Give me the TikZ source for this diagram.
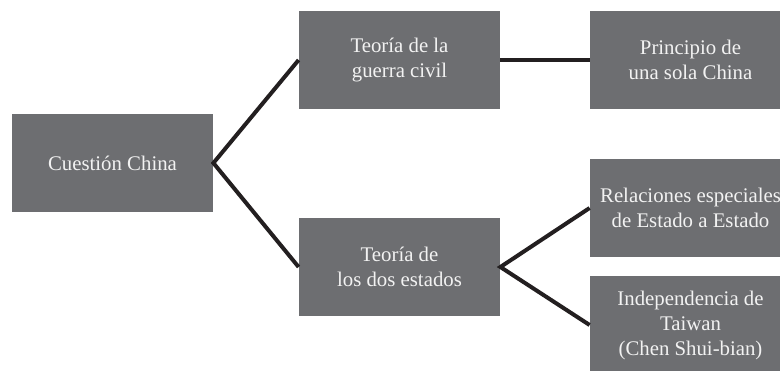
\documentclass[tikz,border=0pt]{standalone}
\usepackage{fontspec}
\setmainfont{Liberation Serif}
\usepackage{tikz}

\begin{document}
\begin{tikzpicture}[x=0.5pt,y=-0.5pt,
		box/.style={fill=boxgray,text=boxtext,minimum width=100.5pt,minimum height=49pt,inner sep=0pt,align=center,font=\fontsize{10.4}{12.5}\selectfont},
		link/.style={line width=2pt,draw=linkblack}]
	\definecolor{boxgray}{HTML}{6D6E71}
	\definecolor{boxtext}{HTML}{F2F2F2}
	\definecolor{linkblack}{HTML}{231F20}
	\useasboundingbox (0,0) rectangle (780,370);
	\begin{scope}
		\clip (0,0) rectangle (780,370);
		% boxes
		\node[box] (cuestion) at (112.5,163) {Cuestión China};
		\node[box] (guerra) at (399.5,60) {Teoría de la\\guerra civil};
		\node[box] (dosestados) at (399.5,267) {Teoría de\\los dos estados};
		\node[box] (principio) at (690.5,60) {Principio de\\una sola China};
		\node[box] (relaciones) at (690.5,208) {Relaciones especiales\\de Estado a Estado};
		\node[box] (independencia) at (690.5,325) {Independencia de\\Taiwan\\(Chen Shui-bian)};
		
		% links
		\draw[link] (guerra.west) -- (cuestion.east) -- (dosestados.west);
		\draw[link] (guerra.east) -- (principio.west);
		\draw[link] (relaciones.west) -- (dosestados.east) -- (independencia.west);
	\end{scope}
\end{tikzpicture}
\end{document}
